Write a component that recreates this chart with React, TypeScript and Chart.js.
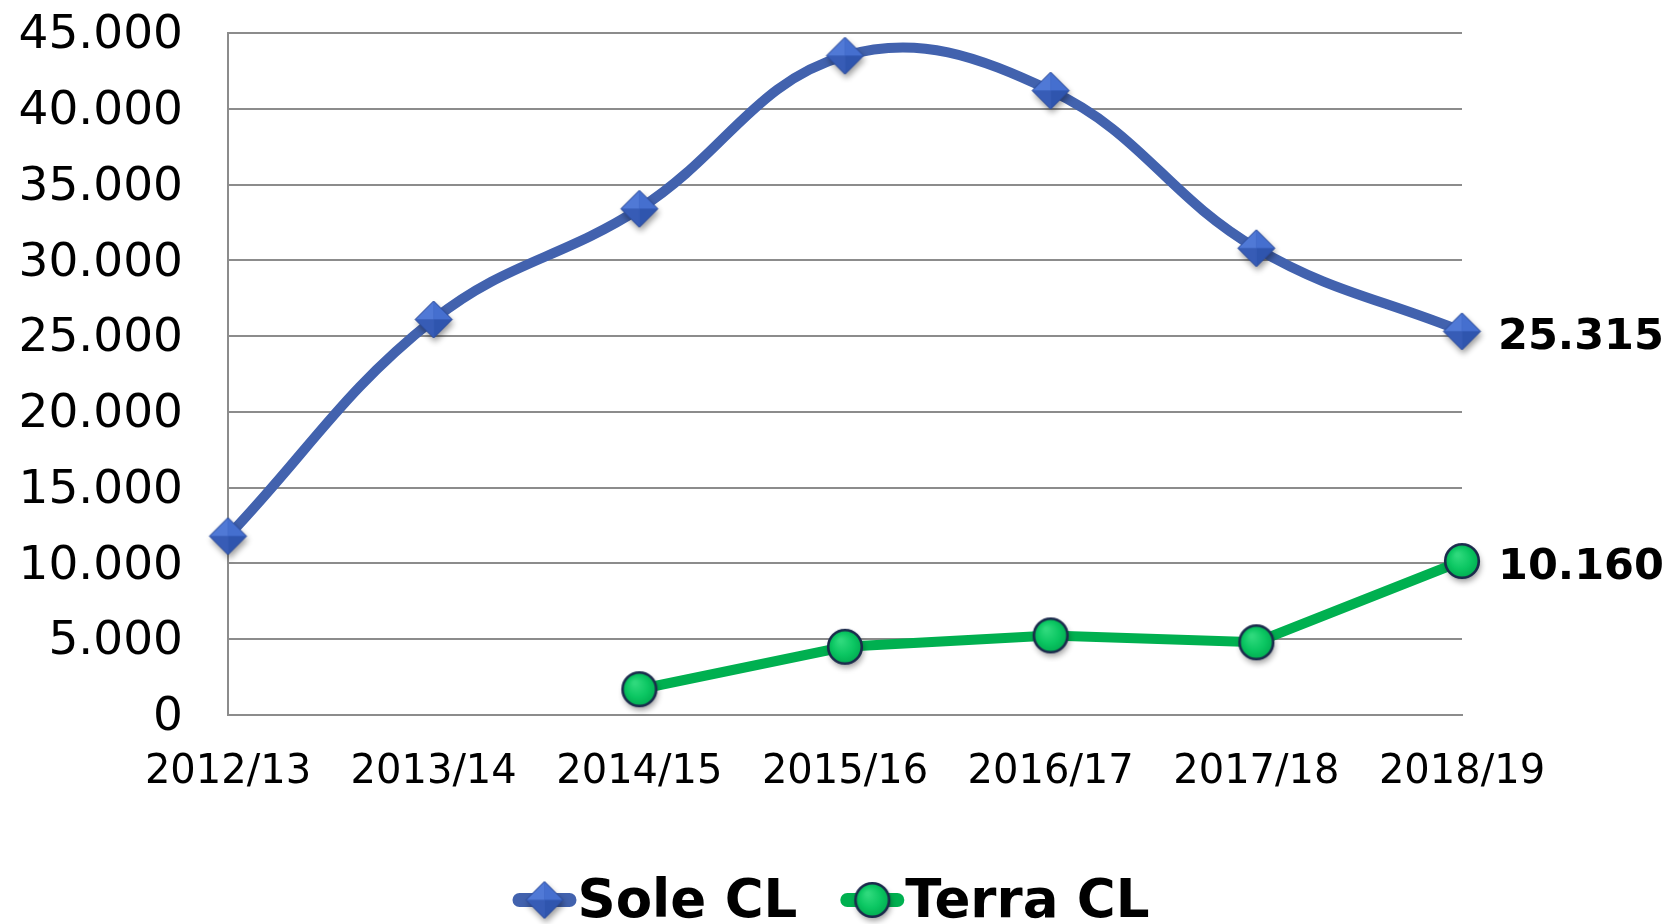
import React, { useEffect, useRef } from 'react';
import { Chart, registerables } from 'chart.js';

Chart.register(...registerables);

// ---- data ----
const categories = ['2012/13', '2013/14', '2014/15', '2015/16', '2016/17', '2017/18', '2018/19'];
const soleValues = [11800, 26100, 33400, 43500, 41200, 30800, 25315];
const terraValues = [null, null, 1700, 4500, 5250, 4800, 10160];
const seriesLabels = ['Sole CL', 'Terra CL'];
const yMin = 0;
const yMax = 45000;
const yStep = 5000;

// ---- styles ----
const SOLE_COLOR = '#4262ae';
const TERRA_COLOR = '#00b050';
const GRID_COLOR = '#8c8c8c';
const FONT = "'DejaVu Sans', Verdana, sans-serif";

function formatThousands(v: number): string {
  return String(Math.round(v)).replace(/\B(?=(\d{3})+(?!\d))/g, '.');
}

function makeDiamond(r: number): HTMLCanvasElement {
  const pad = 9;
  const size = Math.ceil(2 * (r + pad));
  const c = document.createElement('canvas');
  c.width = size;
  c.height = size;
  const ctx = c.getContext('2d') as CanvasRenderingContext2D;
  const cx = size / 2;
  const cy = size / 2;
  const L: [number, number] = [cx - r, cy];
  const T: [number, number] = [cx, cy - r];
  const R: [number, number] = [cx + r, cy];
  const B: [number, number] = [cx, cy + r];
  ctx.save();
  ctx.shadowColor = 'rgba(0,0,0,0.4)';
  ctx.shadowBlur = 6;
  ctx.shadowOffsetX = 1.5;
  ctx.shadowOffsetY = 4;
  ctx.beginPath();
  ctx.moveTo(L[0], L[1]);
  ctx.lineTo(T[0], T[1]);
  ctx.lineTo(R[0], R[1]);
  ctx.lineTo(B[0], B[1]);
  ctx.closePath();
  ctx.fillStyle = '#3a60bd';
  ctx.fill();
  ctx.restore();
  const facets: Array<[[number, number], [number, number], string]> = [
    [L, T, '#5079d6'],
    [T, R, '#456fcf'],
    [R, B, '#2f55ae'],
    [B, L, '#375cb6'],
  ];
  facets.forEach(([a, b, col]) => {
    ctx.beginPath();
    ctx.moveTo(cx, cy);
    ctx.lineTo(a[0], a[1]);
    ctx.lineTo(b[0], b[1]);
    ctx.closePath();
    ctx.fillStyle = col;
    ctx.fill();
  });
  ctx.beginPath();
  ctx.moveTo(L[0], L[1]);
  ctx.lineTo(T[0], T[1]);
  ctx.lineTo(R[0], R[1]);
  ctx.lineTo(B[0], B[1]);
  ctx.closePath();
  ctx.strokeStyle = '#2c4b98';
  ctx.lineWidth = 1;
  ctx.stroke();
  return c;
}

function makeCircle(r: number): HTMLCanvasElement {
  const pad = 9;
  const size = Math.ceil(2 * (r + pad));
  const c = document.createElement('canvas');
  c.width = size;
  c.height = size;
  const ctx = c.getContext('2d') as CanvasRenderingContext2D;
  const cx = size / 2;
  const cy = size / 2;
  ctx.save();
  ctx.shadowColor = 'rgba(0,0,0,0.4)';
  ctx.shadowBlur = 6;
  ctx.shadowOffsetX = 1.5;
  ctx.shadowOffsetY = 4;
  ctx.beginPath();
  ctx.arc(cx, cy, r - 1.2, 0, Math.PI * 2);
  ctx.fillStyle = '#00b050';
  ctx.fill();
  ctx.restore();
  const g = ctx.createRadialGradient(cx - r * 0.25, cy - r * 0.35, r * 0.1, cx, cy, r);
  g.addColorStop(0, '#2ed97c');
  g.addColorStop(0.55, '#0cc763');
  g.addColorStop(1, '#00ab4f');
  ctx.beginPath();
  ctx.arc(cx, cy, r - 1.2, 0, Math.PI * 2);
  ctx.fillStyle = g;
  ctx.fill();
  ctx.lineWidth = 2.6;
  ctx.strokeStyle = '#1b2a4c';
  ctx.stroke();
  return c;
}

const dataLabelPlugin = {
  id: 'lastValueLabels',
  afterDatasetsDraw(chart: any) {
    const ctx: CanvasRenderingContext2D = chart.ctx;
    ctx.save();
    ctx.font = `bold 43px ${FONT}`;
    ctx.fillStyle = '#000000';
    ctx.textAlign = 'left';
    ctx.textBaseline = 'alphabetic';
    chart.data.datasets.forEach((ds: any, i: number) => {
      const meta = chart.getDatasetMeta(i);
      const idx = ds.data.length - 1;
      const el = meta.data[idx];
      const v = ds.data[idx];
      if (!el || v == null) return;
      ctx.fillText(formatThousands(v), el.x + 36, el.y + 18);
    });
    ctx.restore();
  },
};

const legendPlugin = {
  id: 'lineMarkerLegend',
  afterDraw(chart: any) {
    const ctx: CanvasRenderingContext2D = chart.ctx;
    const fontSize = 53;
    ctx.save();
    ctx.font = `bold ${fontSize}px ${FONT}`;
    const items = chart.data.datasets.map((ds: any) => ({
      text: ds.label as string,
      color: ds.borderColor as string,
      marker: ds.pointStyle as HTMLCanvasElement,
      width: ctx.measureText(ds.label).width,
    }));
    const symW = 64;
    const textGap = 1;
    const gap = 43;
    const total =
      items.reduce((s: number, it: any) => s + symW + textGap + it.width, 0) + gap * (items.length - 1);
    const centerX = 831;
    const cy = 900;
    let x = centerX - total / 2;
    items.forEach((it: any) => {
      ctx.strokeStyle = it.color;
      ctx.lineWidth = 14;
      ctx.lineCap = 'round';
      ctx.beginPath();
      ctx.moveTo(x + 7, cy);
      ctx.lineTo(x + symW - 7, cy);
      ctx.stroke();
      const m = it.marker;
      ctx.drawImage(m, x + symW / 2 - m.width / 2, cy - m.height / 2);
      ctx.fillStyle = '#000000';
      ctx.textAlign = 'left';
      ctx.textBaseline = 'alphabetic';
      ctx.fillText(it.text, x + symW + textGap, 898 + 0.3645 * fontSize);
      x += symW + textGap + it.width + gap;
    });
    ctx.restore();
  },
};

export default function App() {
  const canvasRef = useRef<HTMLCanvasElement | null>(null);

  useEffect(() => {
    const canvas = canvasRef.current;
    if (!canvas) return;
    const diamond = makeDiamond(18.5);
    const circle = makeCircle(18);

    const chart = new Chart(canvas, {
      type: 'line',
      data: {
        labels: categories,
        datasets: [
          {
            label: seriesLabels[0],
            data: soleValues,
            borderColor: SOLE_COLOR,
            backgroundColor: SOLE_COLOR,
            borderWidth: 10,
            tension: 0.4,
            pointStyle: diamond as any,
            pointRadius: 18,
            pointHoverRadius: 18,
            clip: false as any,
          },
          {
            label: seriesLabels[1],
            data: terraValues,
            borderColor: TERRA_COLOR,
            backgroundColor: TERRA_COLOR,
            borderWidth: 10,
            tension: 0,
            pointStyle: circle as any,
            pointRadius: 18,
            pointHoverRadius: 18,
            clip: false as any,
          },
        ],
      },
      options: {
        responsive: false,
        animation: false,
        events: [],
        layout: { padding: { left: 0, right: 204, top: 33, bottom: 129 } },
        plugins: {
          legend: { display: false },
          tooltip: { enabled: false },
          title: { display: false },
        },
        scales: {
          x: {
            offset: false,
            grid: { display: false, drawTicks: false },
            border: { display: true, color: GRID_COLOR, width: 2 },
            ticks: {
              color: '#000000',
              font: { family: FONT, size: 40 },
              padding: 34,
              maxRotation: 0,
              autoSkip: false,
            },
            afterFit: (scale: any) => {
              scale.height = 80;
            },
          },
          y: {
            min: yMin,
            max: yMax,
            grid: { color: GRID_COLOR, lineWidth: 2, drawTicks: false },
            border: { display: true, color: GRID_COLOR, width: 2 },
            ticks: {
              stepSize: yStep,
              color: '#000000',
              font: { family: FONT, size: 47 },
              padding: 45,
              labelOffset: 3,
              callback: (v: any) => formatThousands(Number(v)),
            },
            afterFit: (scale: any) => {
              scale.width = 228;
              scale.paddingTop = 28;
              scale.paddingBottom = 28;
            },
          },
        },
      },
      plugins: [dataLabelPlugin, legendPlugin],
    });
    return () => chart.destroy();
  }, []);

  return (
    <div style={{ position: 'fixed', left: 0, top: 0, width: 1666, height: 924, background: '#ffffff' }}>
      <canvas ref={canvasRef} width={1666} height={924} style={{ display: 'block' }} />
    </div>
  );
}
